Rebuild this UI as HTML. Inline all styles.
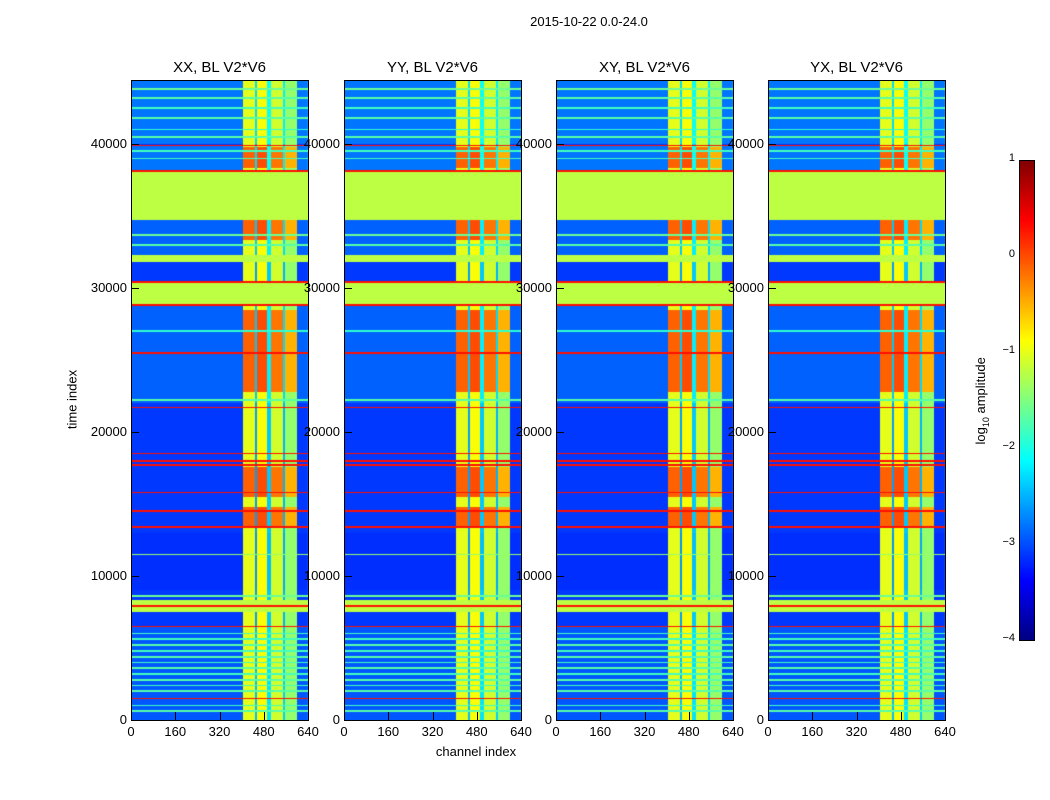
<!DOCTYPE html>
<html><head><meta charset="utf-8">
<style>
body{margin:0;background:#fff;width:1050px;height:800px;overflow:hidden;font-family:"Liberation Sans",sans-serif;}
.abs{position:absolute;}
.t{position:absolute;font-size:13px;color:#000;white-space:nowrap;}
.title{position:absolute;font-size:15px;text-align:center;width:200px;}
canvas{position:absolute;}
.frame{position:absolute;border:1px solid #000;box-sizing:border-box;}
</style></head>
<body>
<div id="root" style="position:relative;width:1050px;height:800px;">
<div class="t" style="left:489px;top:14px;width:200px;text-align:center;">2015-10-22 0.0-24.0</div>
<div class="t" style="left:30px;top:392px;transform:rotate(-90deg);width:84px;text-align:center;">time index</div>
<div class="t" style="left:382px;top:744px;width:188px;text-align:center;">channel index</div>
<div class="t" style="left:922px;top:392px;transform:rotate(-90deg);width:120px;text-align:center;">log<sub style="font-size:9px">10</sub> amplitude</div>
<canvas id="cb" width="15" height="480" style="left:1019px;top:160px;width:15px;height:480px;"></canvas>
<div class="frame" style="left:1019px;top:160px;width:16px;height:481px;"></div>
</div>
<script>
// ---- data ----
const panelTitles=["XX, BL V2*V6","YY, BL V2*V6","XY, BL V2*V6","YX, BL V2*V6"];
const panelLeft=[131,344,556,768];
const xTicks=[0,160,320,480,640];
const yTicks=[0,10000,20000,30000,40000];
const cbTicks=[1,0,-1,-2,-3,-4];
// channel segments: [start,end,base log amplitude]
const chanSegs=[[0,405,-3.1],[405,448,-1.0],[448,456,-2.6],[456,495,-0.9],[495,505,-2.4],[505,548,-1.1],[548,556,-2.5],[556,600,-1.4],[600,640,-3.1]];
// time ranges where the bright channel band turns orange
const activeRanges=[[13300,14800],[15500,17600],[22800,28500],[33300,34700],[38300,39800]];
// full-width flat bands [start,end,value]
const flatBands=[[34700,38100,-1.2],[28800,30400,-1.2],[31800,32300,-1.2],[7500,8300,-1.2]];
// thin full-width lines [time,value]
const lineTimes=[[39900,0.3],[38100,0.3],[30400,0.3],[28800,0.3],[25500,0.3],[21700,0.3],[18500,0.3],[18000,0.3],[17700,0.3],[15800,0.3],[14500,0.3],[13400,0.3],[7900,0.3],[6500,0.3],[1500,0.3],
[43800,-1.6],[43200,-1.7],[42500,-1.8],[41800,-1.7],[41000,-1.9],[40500,-1.7],[39500,-1.8],[39000,-1.8],[33700,-1.6],[33000,-1.7],[27000,-1.9],[22200,-1.7],[11500,-1.4],[8600,-1.6],[6000,-1.8],[5600,-1.8],[5200,-1.7],[4800,-1.8],[4400,-1.7],[4000,-1.8],[3600,-1.7],[3200,-1.8],[2800,-1.7],[2400,-1.8],[2000,-1.7],[1000,-1.8],[600,-1.7]];
// background level modulation by time range [start,end,offset]
const bgMods=[[40000,44444,0.3],[38100,39900,0.3],[32300,34700,0.2],[22000,28800,0.2],[0,6500,0.15],[9000,13000,-0.05]];
// ---- helpers ----
function jet(v){let x=(v+4)/5;x=Math.max(0,Math.min(1,x));
 const r=Math.min(4*x-1.5,-4*x+4.5),g=Math.min(4*x-0.5,-4*x+3.5),b=Math.min(4*x+0.5,-4*x+2.5);
 const c=q=>Math.round(255*Math.max(0,Math.min(1,q)));return `rgb(${c(r)},${c(g)},${c(b)})`;}
const Y0=720,YS=144/10000,W=177,H=640,TMAX=44444;
function value(t,c){
 for(const l of lineTimes){if(Math.abs(t-l[0])<60)return l[1];}
 for(const f of flatBands){if(t>=f[0]&&t<f[1])return f[2];}
 let base=-3;let inBand=false;
 for(const s of chanSegs){if(c>=s[0]&&c<s[1]){base=s[2];inBand=s[2]>-2;}}
 if(!inBand){for(const m of bgMods){if(t>=m[0]&&t<m[1])base+=m[2];}return base;}
 for(const a of activeRanges){if(t>=a[0]&&t<a[1])return base+0.9;}
 return base;}
const root=document.getElementById('root');
panelLeft.forEach((L,p)=>{
 const cv=document.createElement('canvas');cv.width=W;cv.height=H;
 cv.style.left=L+'px';cv.style.top='80px';
 
 
 root.appendChild(cv);
 const ctx=cv.getContext('2d');
 for(let py=0;py<H;py++){const t=(Y0-80-py-0.5)/YS;
  for(let px=0;px<W;px+=2){const c=(px+1)/W*640;ctx.fillStyle=jet(value(t,c));ctx.fillRect(px,py,2,1);}}
 const fr=document.createElement('div');fr.className='frame';
 fr.style.cssText=`left:${L}px;top:80px;width:${W+1}px;height:${H+1}px;`;
 
 
 root.appendChild(fr);
 const ti=document.createElement('div');ti.className='title';ti.textContent=panelTitles[p];
 ti.style.left=(L+W/2-100)+'px';ti.style.top='59px';
 
 
 root.appendChild(ti);
 xTicks.forEach(v=>{const x=L+v/640*W;
  const lb=document.createElement('div');lb.className='t';lb.textContent=v;
  lb.style.cssText=`left:${x-20}px;top:724px;width:40px;text-align:center;`;
  
  
  root.appendChild(lb);
  const tk=document.createElement('div');tk.className='abs';
  tk.style.cssText=`left:${x}px;top:712px;width:1px;height:8px;background:#000;`;
  
  
  root.appendChild(tk);});
 yTicks.forEach(v=>{const y=Y0-v*YS;
  const lb=document.createElement('div');lb.className='t';lb.textContent=v;
  lb.style.cssText=`left:${L-64}px;top:${y-8}px;width:60px;text-align:right;`;
  
  
  root.appendChild(lb);
  const tk=document.createElement('div');tk.className='abs';
  tk.style.cssText=`left:${L}px;top:${y}px;width:8px;height:1px;background:#000;`;
  
  
  root.appendChild(tk);});
});
const cb=document.getElementById('cb').getContext('2d');
for(let i=0;i<480;i++){cb.fillStyle=jet(1-i/480*5);cb.fillRect(0,i,15,1);}
cbTicks.forEach(v=>{const y=160+(1-v)/5*480;
 const lb=document.createElement('div');lb.className='t';lb.textContent=v<0?'\u2212'+(-v):v;
 lb.style.cssText=`left:${975}px;top:${y-8}px;width:40px;text-align:right;font-size:11px;`;
 
 
 root.appendChild(lb);});
</script>
</body></html>
